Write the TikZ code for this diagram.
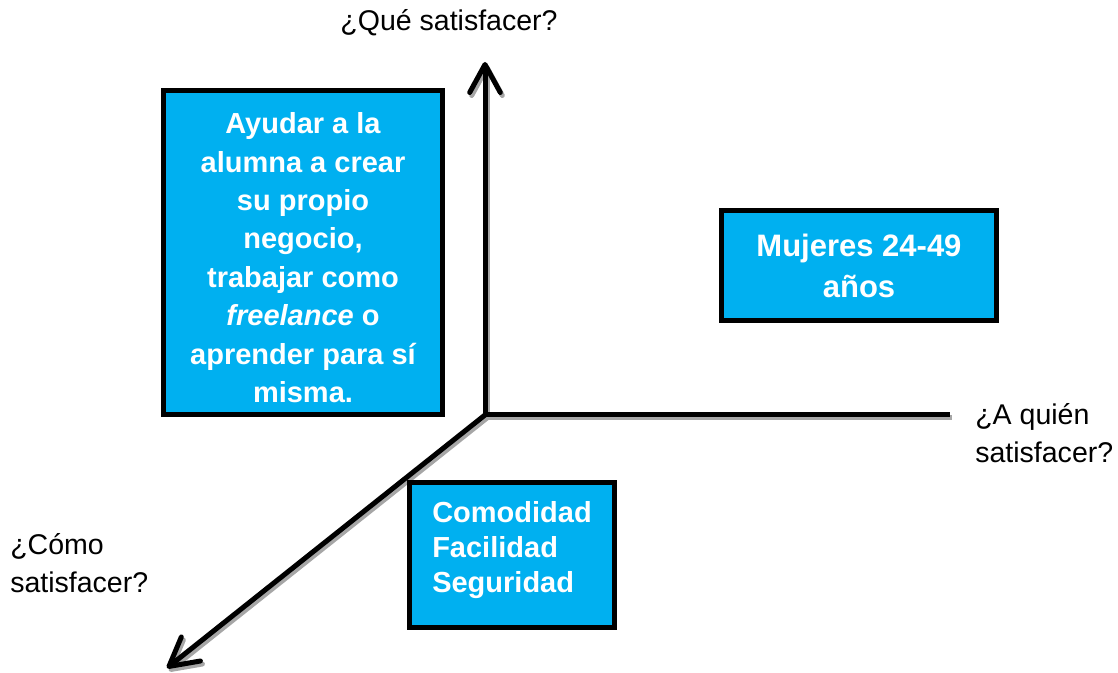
\documentclass[tikz,border=0pt]{standalone}
\usepackage{fontspec}
\setmainfont{Liberation Sans}
\usetikzlibrary{arrows.meta}
\definecolor{boxblue}{HTML}{00B0F0}
\definecolor{shadowgray}{HTML}{A6A6A6}
\begin{document}
\begin{tikzpicture}[x=0.75pt, y=-0.75pt,
    axisline/.style={line width=3.75pt},
    axisshadow/.style={axisline, draw=shadowgray, transform canvas={shift={(1.5pt,-2.25pt)}}},
    barb/.tip={Straight Barb[length=21pt,width=23pt,round]},
    bluebox/.style={draw=black, line width=3.75pt, fill=boxblue, text=white, inner sep=0pt,
      font=\bfseries\fontsize{21.75}{28.8}\selectfont},
    axislabel/.style={font=\fontsize{21.4}{28.5}\selectfont, inner sep=0pt}]
  \useasboundingbox (0,0) rectangle (1118,673);

  % Axes - origin and the three free ends
  \coordinate (o) at (485,415);
  \coordinate (what) at (485,62);
  \coordinate (who) at (950,415);
  \coordinate (how) at (167,668);

  % grey shadow first, black line on top
  \draw[axisshadow, barb-] (what) -- (o) -- (who);
  \draw[axisshadow, -barb] (o) -- (how);
  \draw[axisline, barb-] (what) -- (o) -- (who);
  \draw[axisline, -barb] (o) -- (how);

  % Axis questions
  \node[axislabel] (whatlabel) at (449,23) {¿Qué satisfacer?};
  \node[axislabel, align=left, anchor=north west] (wholabel) at (975,403) {¿A quién\\satisfacer?};
  \node[axislabel, align=left, anchor=north west] (howlabel) at (10,533) {¿Cómo\\satisfacer?};

  % What - top left quadrant (strut pushes the lines down a little)
  \node[bluebox, align=center, minimum width=209.25pt, minimum height=243pt] (whatbox) at (303,252.5)
    {\rule{0pt}{23.5pt}Ayudar a la\\alumna a crear\\su propio\\negocio,\\trabajar como\\\textit{freelance} o\\aprender para sí\\misma.};

  % Who - top right quadrant
  \node[bluebox, align=center, minimum width=206.25pt, minimum height=82.5pt,
    font=\bfseries\fontsize{23.25}{30.75}\selectfont] (whobox) at (859,265.5)
    {Mujeres 24-49\\años};

  % How - below the origin
  \node[bluebox, align=left, minimum width=153.75pt, minimum height=108.75pt, text depth=12pt,
    font=\bfseries\fontsize{21.75}{26.25}\selectfont] (howbox) at (512,555)
    {Comodidad\\Facilidad\\Seguridad};
\end{tikzpicture}
\end{document}
